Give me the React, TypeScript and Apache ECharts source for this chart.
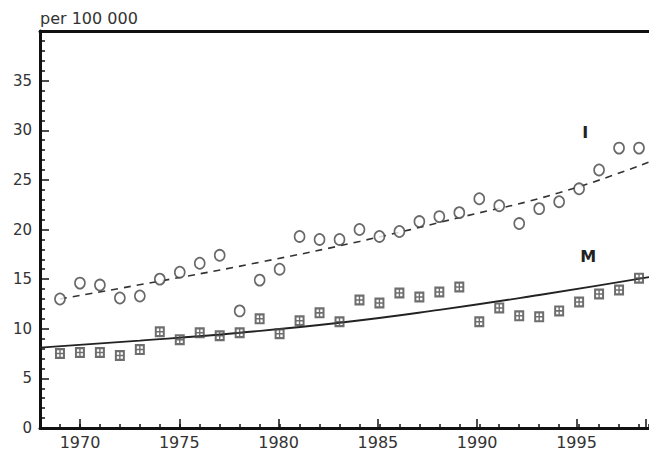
import React, { useEffect, useRef } from "react";
import * as echarts from "echarts";

const years = [
  1969, 1970, 1971, 1972, 1973, 1974, 1975, 1976, 1977, 1978,
  1979, 1980, 1981, 1982, 1983, 1984, 1985, 1986, 1987, 1988,
  1989, 1990, 1991, 1992, 1993, 1994, 1995, 1996, 1997, 1998,
];
const incidence = [
  13.0, 14.6, 14.4, 13.1, 13.3, 15.0, 15.7, 16.6, 17.4, 11.8,
  14.9, 16.0, 19.3, 19.0, 19.0, 20.0, 19.3, 19.8, 20.8, 21.3,
  21.7, 23.1, 22.4, 20.6, 22.1, 22.8, 24.1, 26.0, 28.2, 28.2,
];
const mortality = [
  7.5, 7.6, 7.6, 7.3, 7.9, 9.7, 8.9, 9.6, 9.3, 9.6,
  11.0, 9.5, 10.8, 11.6, 10.7, 12.9, 12.6, 13.6, 13.2, 13.7,
  14.2, 10.7, 12.1, 11.3, 11.2, 11.8, 12.7, 13.5, 13.9, 15.1,
];

// Fitted trend curves
const trendIYears = [1969, 1974, 1979, 1984, 1989, 1994, 1998.5];
const trendIValues = [13.0, 14.8, 16.7, 18.8, 21.2, 23.7, 26.8];
const trendMYears = [1968, 1973, 1978, 1983, 1988, 1993, 1998.5];
const trendMValues = [8.1, 8.8, 9.6, 10.6, 11.9, 13.4, 15.2];

const yTicks = [0, 5, 10, 15, 20, 25, 30, 35];
const xTickLabels = [1970, 1975, 1980, 1985, 1990, 1995];

const seriesLabels = { I: "I", M: "M" };
const labelPosI = [1995.3, 29.8];
const labelPosM = [1995.45, 17.3];

const zip = (a: number[], b: number[]) => a.map((v, i) => [v, b[i]]);

const squareSymbol =
  "path://M0,0L10,0L10,10L0,10Z M2,2L2,4.3L4.3,4.3L4.3,2Z M5.7,2L5.7,4.3L8,4.3L8,2Z M2,5.7L2,8L4.3,8L4.3,5.7Z M5.7,5.7L5.7,8L8,8L8,5.7Z";

const AX = "#111";
const TXT = "#333";

export default function App() {
  const ref = useRef<HTMLDivElement>(null);
  useEffect(() => {
    const chart = echarts.init(ref.current!, null, { renderer: "svg" });
    const option: any = {
      animation: false,
      backgroundColor: "#ffffff",
      textStyle: { fontFamily: "DejaVu Sans" },
      grid: [
        { left: 40, top: 31, width: 610, height: 397 },
        { left: 80, top: 31, width: 570, height: 397 },
      ],
      xAxis: [
        {
          gridIndex: 0,
          type: "value",
          min: 1968,
          max: 1998.5,
          interval: 1,
          position: "bottom",
          axisLine: { show: true, onZero: false, lineStyle: { color: AX, width: 3 } },
          axisTick: { show: true, inside: true, length: 4, lineStyle: { color: AX, width: 1.5 } },
          axisLabel: { show: false },
          splitLine: { show: false },
        },
        {
          gridIndex: 0,
          type: "value",
          min: 1968,
          max: 1998.5,
          position: "top",
          axisLine: { show: true, onZero: false, lineStyle: { color: AX, width: 3 } },
          axisTick: { show: false },
          axisLabel: { show: false },
          splitLine: { show: false },
        },
        {
          gridIndex: 1,
          type: "value",
          min: 1970,
          max: 1998.5,
          interval: 5,
          position: "bottom",
          axisLine: { show: false, onZero: false },
          axisTick: { show: true, inside: true, length: 8, lineStyle: { color: AX, width: 1.5 } },
          axisLabel: {
            show: true,
            margin: 7,
            fontSize: 16,
            color: TXT,
            formatter: (v: number) => (xTickLabels.indexOf(v) >= 0 ? String(v) : ""),
          },
          splitLine: { show: false },
        },
      ],
      yAxis: [
        {
          gridIndex: 0,
          type: "value",
          min: 0,
          max: 40,
          interval: 5,
          name: "per 100 000",
          nameLocation: "end",
          nameGap: 13,
          nameTextStyle: { align: "left", verticalAlign: "middle", fontSize: 16, color: TXT },
          axisLine: { show: true, onZero: false, lineStyle: { color: AX, width: 3 } },
          axisTick: { show: true, inside: true, length: 9, lineStyle: { color: AX, width: 1.5 } },
          minorTick: { show: true, splitNumber: 5, length: 5, lineStyle: { color: AX, width: 1.5 } },
          axisLabel: {
            margin: 8,
            fontSize: 15,
            color: TXT,
            formatter: (v: number) => (yTicks.indexOf(v) >= 0 ? String(v) : ""),
          },
          splitLine: { show: false },
          minorSplitLine: { show: false },
        },
        { gridIndex: 1, type: "value", min: 0, max: 40, show: false },
      ],
      series: [
        {
          name: "I trend",
          type: "line",
          xAxisIndex: 0,
          yAxisIndex: 0,
          data: zip(trendIYears, trendIValues),
          smooth: true,
          symbol: "none",
          lineStyle: { color: "#333", width: 1.6, type: [7, 6] },
          markPoint: {
            symbol: "rect",
            symbolSize: 1,
            itemStyle: { color: "transparent" },
            label: {
              show: true,
              position: "inside",
              fontSize: 16,
              fontWeight: "bold",
              color: "#222",
              formatter: seriesLabels.I,
            },
            data: [{ coord: labelPosI }],
          },
          z: 2,
        },
        {
          name: "M trend",
          type: "line",
          xAxisIndex: 0,
          yAxisIndex: 0,
          data: zip(trendMYears, trendMValues),
          smooth: true,
          symbol: "none",
          lineStyle: { color: "#222", width: 1.9 },
          markPoint: {
            symbol: "rect",
            symbolSize: 1,
            itemStyle: { color: "transparent" },
            label: {
              show: true,
              position: "inside",
              fontSize: 16,
              fontWeight: "bold",
              color: "#222",
              formatter: seriesLabels.M,
            },
            data: [{ coord: labelPosM }],
          },
          z: 2,
        },
        {
          name: "I",
          type: "scatter",
          xAxisIndex: 0,
          yAxisIndex: 0,
          data: zip(years, incidence),
          symbol: "circle",
          symbolSize: [10, 11],
          itemStyle: { color: "#ffffff", borderColor: "#444", borderWidth: 1.7 },
          z: 3,
        },
        {
          name: "M",
          type: "scatter",
          xAxisIndex: 0,
          yAxisIndex: 0,
          data: zip(years, mortality),
          symbol: squareSymbol,
          symbolSize: [10, 11],
          itemStyle: { color: "#4a4a4a" },
          z: 3,
        },
      ],
    };
    chart.setOption(option);
    return () => chart.dispose();
  }, []);
  return (
    <div
      ref={ref}
      style={{ position: "fixed", left: 0, top: 0, width: 649, height: 450, background: "#fff" }}
    />
  );
}
